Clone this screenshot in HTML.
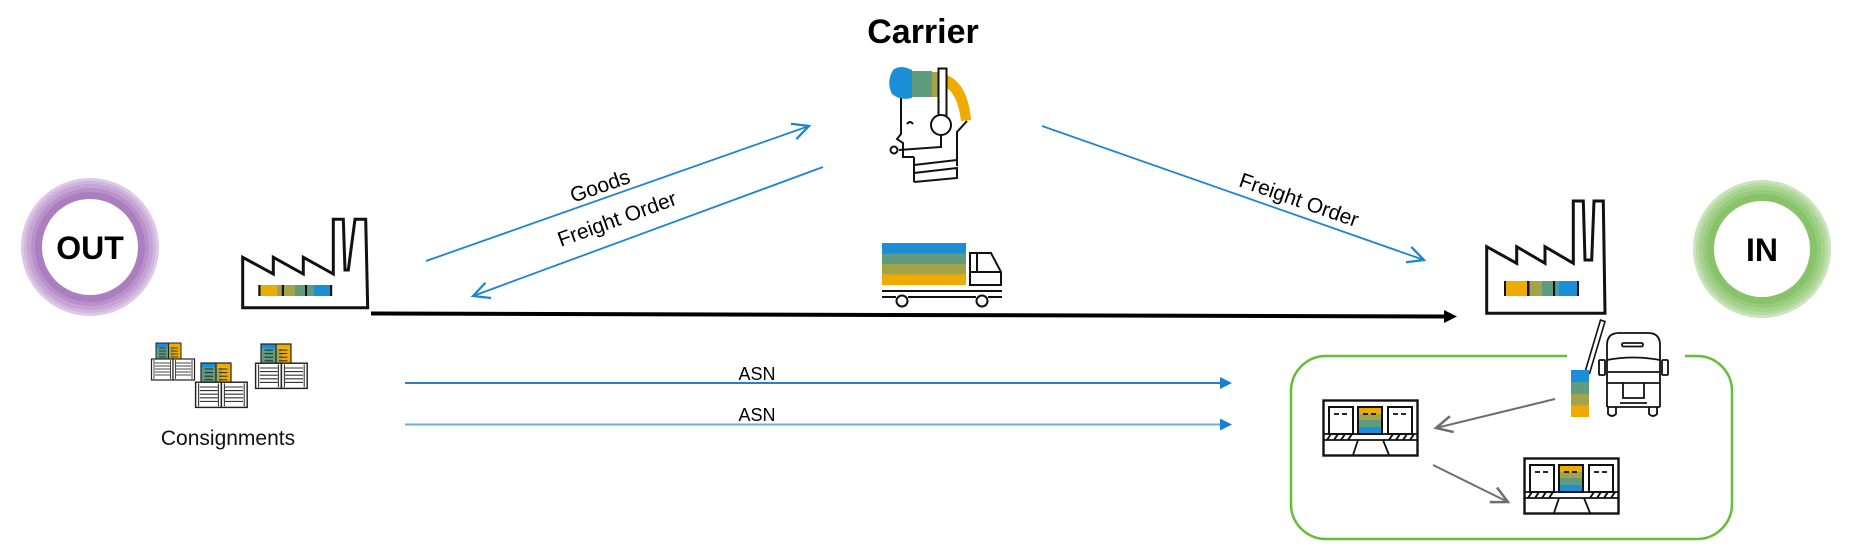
<!DOCTYPE html>
<html>
<head>
<meta charset="utf-8">
<style>
html,body{margin:0;padding:0;background:#fff;}
svg{display:block;}
text{font-family:"Liberation Sans",Arial,sans-serif;}
</style>
</head>
<body>
<svg width="1853" height="549" viewBox="0 0 1853 549" xmlns="http://www.w3.org/2000/svg">
<defs>
  <marker id="openBlue" markerUnits="userSpaceOnUse" markerWidth="20" markerHeight="20" refX="14" refY="7" orient="auto" viewBox="0 0 16 14">
    <path d="M1,0.5 L14,7 L1,13.5" fill="none" stroke="#1a84d6" stroke-width="1.8"/>
  </marker>
  <marker id="openGrey" markerUnits="userSpaceOnUse" markerWidth="20" markerHeight="20" refX="14" refY="7" orient="auto" viewBox="0 0 16 14">
    <path d="M1,0.5 L14,7 L1,13.5" fill="none" stroke="#6e6e6e" stroke-width="2"/>
  </marker>
  <g id="crates">
    <!-- colored top -->
    <rect x="5" y="0" width="12.5" height="4" fill="#1a8fd8"/>
    <rect x="5" y="4" width="12.5" height="12" fill="#5e9b7f"/>
    <rect x="17.5" y="0" width="12.5" height="4" fill="#f0ab00"/>
    <rect x="17.5" y="4" width="5" height="12" fill="#a3a34a"/>
    <rect x="22.5" y="4" width="7.5" height="12" fill="#f0ab00"/>
    <rect x="5" y="0" width="25" height="16" fill="none" stroke="#222" stroke-width="1"/>
    <line x1="17.5" y1="0" x2="17.5" y2="16" stroke="#222" stroke-width="1"/>
    <g stroke="#222" stroke-width="0.8">
      <line x1="8" y1="5" x2="15" y2="5"/><line x1="8" y1="8" x2="15" y2="8"/><line x1="8" y1="11" x2="15" y2="11"/><line x1="8" y1="14" x2="15" y2="14"/>
      <line x1="20" y1="5" x2="27" y2="5"/><line x1="20" y1="8" x2="27" y2="8"/><line x1="20" y1="11" x2="27" y2="11"/><line x1="20" y1="14" x2="27" y2="14"/>
    </g>
    <!-- crates -->
    <rect x="0.5" y="16" width="21.5" height="21" fill="#fff" stroke="#222" stroke-width="1.2"/>
    <rect x="22" y="16" width="21.5" height="21" fill="#fff" stroke="#222" stroke-width="1.2"/>
    <g stroke="#333" stroke-width="0.9">
      <line x1="4" y1="20" x2="19" y2="20"/><line x1="4" y1="23" x2="19" y2="23"/><line x1="4" y1="26" x2="19" y2="26"/><line x1="4" y1="29" x2="19" y2="29"/><line x1="4" y1="32" x2="19" y2="32"/>
      <line x1="25" y1="20" x2="40" y2="20"/><line x1="25" y1="23" x2="40" y2="23"/><line x1="25" y1="26" x2="40" y2="26"/><line x1="25" y1="29" x2="40" y2="29"/><line x1="25" y1="32" x2="40" y2="32"/>
      <line x1="3" y1="17" x2="3" y2="36"/><line x1="19.5" y1="17" x2="19.5" y2="36"/>
      <line x1="24.5" y1="17" x2="24.5" y2="36"/><line x1="41" y1="17" x2="41" y2="36"/>
    </g>
  </g>
  <g id="dock">
    <rect x="0.5" y="0.5" width="94" height="55" fill="#fff" stroke="#111" stroke-width="2.4"/>
    <rect x="6" y="7" width="24" height="27" fill="#fff" stroke="#111" stroke-width="2"/>
    <rect x="35" y="7" width="24" height="7" fill="#f0ab00"/>
    <rect x="35" y="14" width="24" height="6" fill="#a3a34a"/>
    <rect x="35" y="20" width="24" height="7" fill="#5e9b7f"/>
    <rect x="35" y="27" width="24" height="7" fill="#1a8fd8"/>
    <rect x="35" y="7" width="24" height="27" fill="none" stroke="#111" stroke-width="2"/>
    <rect x="65" y="7" width="24" height="27" fill="#fff" stroke="#111" stroke-width="2"/>
    <g stroke="#111" stroke-width="1.8">
      <line x1="11" y1="14" x2="16" y2="14"/><line x1="19" y1="14" x2="24" y2="14"/>
      <line x1="40" y1="14" x2="45" y2="14"/><line x1="48" y1="14" x2="53" y2="14"/>
      <line x1="70" y1="14" x2="75" y2="14"/><line x1="78" y1="14" x2="83" y2="14"/>
      <line x1="0" y1="34" x2="95" y2="34"/>
      <line x1="0" y1="40" x2="95" y2="40"/>
      <line x1="35" y1="40" x2="30" y2="55"/>
      <line x1="60" y1="40" x2="66" y2="55"/>
    </g>
    <g stroke="#111" stroke-width="2">
      <line x1="4" y1="40" x2="8" y2="34"/><line x1="11" y1="40" x2="15" y2="34"/><line x1="18" y1="40" x2="22" y2="34"/><line x1="25" y1="40" x2="29" y2="34"/>
      <line x1="66" y1="40" x2="70" y2="34"/><line x1="73" y1="40" x2="77" y2="34"/><line x1="80" y1="40" x2="84" y2="34"/><line x1="87" y1="40" x2="91" y2="34"/>
    </g>
  </g>
</defs>

<!-- OUT ring -->
<circle cx="90" cy="247" r="69" fill="#ddc8e7"/>
<circle cx="90" cy="247" r="66" fill="#d1b5de"/>
<circle cx="90" cy="247" r="63" fill="#c5a3d5"/>
<circle cx="90" cy="247" r="59" fill="#b890ca"/>
<circle cx="90" cy="247" r="55" fill="#aa7ebf"/>
<circle cx="90" cy="247" r="48" fill="#fff"/>
<text x="90" y="259" text-anchor="middle" font-size="32" font-weight="bold" fill="#000">OUT</text>

<!-- IN ring -->
<circle cx="1762" cy="249" r="69" fill="#c8e4b8"/>
<circle cx="1762" cy="249" r="66" fill="#b6dba2"/>
<circle cx="1762" cy="249" r="63" fill="#a5d38e"/>
<circle cx="1762" cy="249" r="59" fill="#96cb7b"/>
<circle cx="1762" cy="249" r="55" fill="#88c36a"/>
<circle cx="1762" cy="249" r="48" fill="#fff"/>
<text x="1762" y="261" text-anchor="middle" font-size="32" font-weight="bold" fill="#000">IN</text>

<!-- Carrier title -->
<text x="923" y="43" text-anchor="middle" font-size="34" font-weight="bold" fill="#000">Carrier</text>

<!-- Carrier icon -->
<g>
  <path d="M893,70 Q900,64 912,70 L912,98 Q900,101 892,94 Q886,82 893,70 Z" fill="#1a8fd8"/>
  <rect x="912" y="71" width="20" height="26" fill="#5e9b7f"/>
  <rect x="932" y="72" width="7" height="25" fill="#a3a34a"/>
  <path d="M947,75 Q968,84 971,120 L961,121 Q958,96 947,88 Z" fill="#f0ab00"/>
  <rect x="938.5" y="68.5" width="8" height="47" fill="#fff" stroke="#111" stroke-width="2"/>
  <circle cx="941" cy="125" r="10" fill="#fff" stroke="#111" stroke-width="2"/>
  <g fill="none" stroke="#111" stroke-width="2">
    <path d="M901,98 L901,134 L897,139 L903,143 L903,157 L914,157"/>
    <path d="M907,124 Q910,120 913,124"/>
    <path d="M941,135 L941,147 L899,150"/>
    <circle cx="894" cy="150" r="3.5"/>
    <path d="M967,121 L957,132 L957,166"/>
    <path d="M914,157 L914,182"/>
    <path d="M914,165 L957,160"/>
    <path d="M914,173 L957,168 L957,178 L914,182"/>
  </g>
</g>

<!-- Left factory -->
<polygon points="242.7,257.3 273.3,274 273.3,257.3 303.3,274 303.3,257.3 333.3,274 333.3,219.3 343.3,219.3 345,270 348.3,270 355,219.3 365.7,219.3 367.7,307.7 242.7,307.7" fill="#fff" stroke="#111" stroke-width="3" stroke-linejoin="miter"/>
<g>
  <rect x="258.3" y="285" width="2.4" height="11" fill="#111"/>
  <rect x="260.7" y="285" width="16" height="11" fill="#f0ab00"/>
  <rect x="276.7" y="285" width="5" height="11" fill="#a3a34a"/>
  <rect x="281.7" y="285" width="2.3" height="11" fill="#111"/>
  <rect x="284" y="285" width="11" height="11" fill="#a3a34a"/>
  <rect x="295" y="285" width="10" height="11" fill="#5e9b7f"/>
  <rect x="305" y="285" width="2.3" height="11" fill="#111"/>
  <rect x="307.3" y="285" width="6" height="11" fill="#5e9b7f"/>
  <rect x="313.3" y="285" width="16.7" height="11" fill="#1a8fd8"/>
  <rect x="330" y="285" width="2.2" height="11" fill="#111"/>
</g>

<!-- Right factory -->
<polygon points="1486.7,246.7 1516.7,263.3 1516.7,246.7 1545,263.3 1545,246.7 1573.3,263.3 1573.3,201 1583.3,201 1585,260 1591.7,260 1594,201 1603.3,201 1605,313.3 1486.7,313.3" fill="#fff" stroke="#111" stroke-width="3"/>
<g>
  <rect x="1504" y="281" width="2.2" height="15" fill="#111"/>
  <rect x="1506" y="281" width="21" height="15" fill="#f0ab00"/>
  <rect x="1527" y="281" width="2.6" height="15" fill="#111"/>
  <rect x="1529.6" y="281" width="12.4" height="15" fill="#a3a34a"/>
  <rect x="1542" y="281" width="11" height="15" fill="#5e9b7f"/>
  <rect x="1553" y="281" width="2.3" height="15" fill="#111"/>
  <rect x="1555.3" y="281" width="3" height="15" fill="#5e9b7f"/>
  <rect x="1558.3" y="281" width="18.7" height="15" fill="#1a8fd8"/>
  <rect x="1577" y="281" width="2" height="15" fill="#111"/>
</g>

<!-- Main black arrow -->
<line x1="371" y1="313.5" x2="1447" y2="316.5" stroke="#000" stroke-width="4"/>
<polygon points="1444,310 1457,316.5 1444,323" fill="#000"/>

<!-- Truck (middle) -->
<g>
  <rect x="882" y="243" width="84" height="10.5" fill="#1a8fd8"/>
  <rect x="882" y="253.5" width="84" height="10.5" fill="#5e9b7f"/>
  <rect x="882" y="264" width="84" height="10.5" fill="#a3a34a"/>
  <rect x="882" y="274.5" width="84" height="10.5" fill="#f0ab00"/>
  <g fill="none" stroke="#111" stroke-width="2">
    <path d="M970,253 L991,253 L1001,272 L1001,285 L970,285 Z"/>
    <line x1="977" y1="253" x2="977" y2="272"/>
    <line x1="970" y1="272" x2="1001" y2="272"/>
    <line x1="882" y1="291" x2="1002" y2="291"/>
    <path d="M882,297 L896,297 M908,297 L976,297 M988,297 L1002,297"/>
    <circle cx="902" cy="301" r="5.5" fill="#fff"/>
    <circle cx="982" cy="301" r="5.5" fill="#fff"/>
  </g>
</g>

<!-- Blue diagonal arrows -->
<line x1="426" y1="261" x2="809" y2="126" stroke="#1a84d6" stroke-width="1.8" marker-end="url(#openBlue)"/>
<line x1="823" y1="167" x2="473" y2="296" stroke="#1a84d6" stroke-width="1.8" marker-end="url(#openBlue)"/>
<line x1="1042" y1="126" x2="1424" y2="260" stroke="#1a84d6" stroke-width="1.8" marker-end="url(#openBlue)"/>

<text x="600" y="193" text-anchor="middle" font-size="21" fill="#000" transform="rotate(-19.4 600 186)">Goods</text>
<text x="617" y="226" text-anchor="middle" font-size="21" fill="#000" transform="rotate(-20 617 219)">Freight Order</text>
<text x="1299" y="207" text-anchor="middle" font-size="21" fill="#000" transform="rotate(19.3 1299 200)">Freight Order</text>

<!-- ASN arrows -->
<line x1="405" y1="383" x2="1222" y2="383" stroke="#2a80c6" stroke-width="2"/>
<polygon points="1220,377 1232,383 1220,389" fill="#1a7fd0"/>
<text x="757" y="380" text-anchor="middle" font-size="18" fill="#000">ASN</text>
<line x1="405" y1="424.5" x2="1222" y2="424.5" stroke="#6aaee0" stroke-width="2"/>
<polygon points="1220,418.5 1232,424.5 1220,430.5" fill="#1a7fd0"/>
<text x="757" y="421" text-anchor="middle" font-size="18" fill="#000">ASN</text>

<!-- Consignments -->
<use href="#crates" transform="translate(151,343)"/>
<use href="#crates" transform="translate(195,363) scale(1.2)"/>
<use href="#crates" transform="translate(255,344) scale(1.2)"/>
<text x="228" y="445" text-anchor="middle" font-size="21" fill="#111">Consignments</text>

<!-- Green rounded box -->
<path d="M1685,356 L1697,356 A35,35 0 0 1 1732,391 L1732,504 A35,35 0 0 1 1697,539 L1326,539 A35,35 0 0 1 1291,504 L1291,391 A35,35 0 0 1 1326,356 L1567,356" fill="none" stroke="#65bd3a" stroke-width="2.5"/>

<!-- Gate and truck front -->
<g>
  <polygon points="1585,372 1589.5,373.5 1605,321.5 1600.5,320" fill="#fff" stroke="#111" stroke-width="1.6"/>
  <rect x="1571" y="370" width="18" height="12" fill="#1a8fd8"/>
  <rect x="1571" y="382" width="18" height="12" fill="#5e9b7f"/>
  <rect x="1571" y="394" width="18" height="11.5" fill="#a3a34a"/>
  <rect x="1571" y="405.5" width="18" height="11.5" fill="#f0ab00"/>
  <g fill="none" stroke="#111" stroke-width="1.8">
    <path d="M1607,407 L1607,345 Q1607,333 1619,333 L1648,333 Q1660,333 1660,345 L1660,407"/>
    <rect x="1622" y="343" width="21" height="3.5" rx="1.5"/>
    <path d="M1607,360 Q1633,355 1660,360"/>
    <path d="M1608,372 L1659,372"/>
    <rect x="1599" y="360" width="6" height="15" rx="1"/>
    <rect x="1662" y="360" width="6" height="15" rx="1"/>
    <path d="M1607,383 L1623,383 L1623,398 L1644,398 L1644,383 L1660,383"/>
    <line x1="1623" y1="383" x2="1644" y2="383"/>
    <line x1="1607" y1="407" x2="1660" y2="407"/>
    <line x1="1620" y1="403" x2="1647" y2="403"/>
    <path d="M1608,407 L1608,414 Q1612,418 1616,414 L1616,407"/>
    <path d="M1649,407 L1649,414 Q1653,418 1657,414 L1657,407"/>
  </g>
</g>

<!-- Docks -->
<use href="#dock" transform="translate(1323,400)"/>
<use href="#dock" transform="translate(1524,458)"/>

<!-- Grey arrows -->
<line x1="1555" y1="399" x2="1436" y2="428" stroke="#6e6e6e" stroke-width="2" marker-end="url(#openGrey)"/>
<line x1="1433" y1="465" x2="1508" y2="502" stroke="#6e6e6e" stroke-width="2" marker-end="url(#openGrey)"/>
</svg>
</body>
</html>
